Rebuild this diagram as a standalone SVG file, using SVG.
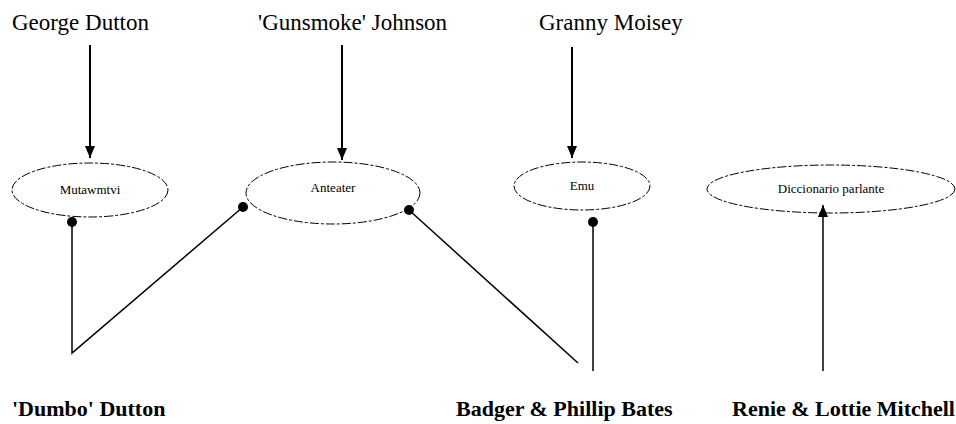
<svg xmlns="http://www.w3.org/2000/svg" width="956" height="424" viewBox="0 0 956 424">
<style>
.top{font-family:"Liberation Serif","DejaVu Serif",serif;font-size:23px;fill:#000}
.bot{font-family:"Liberation Serif","DejaVu Serif",serif;font-size:22px;font-weight:bold;fill:#000}
.lbl{font-family:"Liberation Serif","DejaVu Serif",serif;font-size:13px;fill:#000;text-anchor:middle}
.ell{fill:none;stroke:#000;stroke-width:1;stroke-dasharray:9 2 3 2}
.ln{stroke:#000;stroke-width:2;fill:none}
.thin{stroke:#000;stroke-width:1.5;fill:none}
</style>
<defs>
<marker id="ah" markerWidth="12" markerHeight="10" refX="12" refY="5" orient="auto" markerUnits="userSpaceOnUse" viewBox="0 0 12 10">
<path d="M0,0 L12,5 L0,10 Z" fill="#000"/>
</marker>
</defs>
<rect width="956" height="424" fill="#fff"/>
<g id="george"><text class="top" x="12" y="30">George Dutton</text></g>
<g id="gunsmoke"><text class="top" x="258" y="30">'Gunsmoke' Johnson</text></g>
<g id="granny"><text class="top" x="539" y="30">Granny Moisey</text></g>
<g id="mutawmtvi"><ellipse class="ell" cx="90" cy="190" rx="78" ry="27"/><text class="lbl" x="90" y="194">Mutawmtvi</text></g>
<g id="anteater"><ellipse class="ell" cx="333" cy="193" rx="87" ry="31"/><text class="lbl" x="333" y="192">Anteater</text></g>
<g id="emu"><ellipse class="ell" cx="582" cy="186" rx="68" ry="24"/><text class="lbl" x="582" y="190">Emu</text></g>
<g id="diccionario"><ellipse class="ell" cx="831" cy="189" rx="124" ry="24"/><text class="lbl" x="831" y="193">Diccionario parlante</text></g>
<g id="dumbo"><text class="bot" x="12" y="416">'Dumbo' Dutton</text></g>
<g id="badger"><text class="bot" x="456" y="416">Badger &amp; Phillip Bates</text></g>
<g id="renie"><text class="bot" x="732" y="416">Renie &amp; Lottie Mitchell</text></g>
<g id="connectors">
<line class="ln" x1="90" y1="45" x2="90" y2="158" marker-end="url(#ah)"/>
<line class="ln" x1="342" y1="45" x2="342" y2="160" marker-end="url(#ah)"/>
<line class="ln" x1="572" y1="47" x2="572" y2="158" marker-end="url(#ah)"/>
<circle cx="72" cy="222" r="5" fill="#000"/>
<polyline class="thin" points="72,222 72,353 243,207"/>
<circle cx="243" cy="207" r="5" fill="#000"/>
<circle cx="409" cy="210" r="5" fill="#000"/>
<line class="thin" x1="409" y1="210" x2="578" y2="363"/>
<circle cx="593" cy="222" r="5" fill="#000"/>
<line class="thin" x1="593" y1="222" x2="593" y2="371"/>
<line class="thin" x1="823" y1="371" x2="823" y2="205" marker-end="url(#ah)"/>
</g>
</svg>
